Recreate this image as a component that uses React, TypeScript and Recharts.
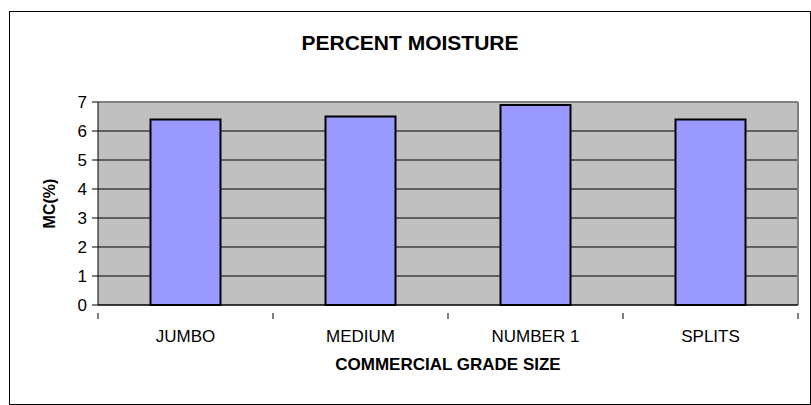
import { Bar, BarChart, CartesianGrid, XAxis, YAxis } from "recharts";

const categories = ["JUMBO", "MEDIUM", "NUMBER 1", "SPLITS"];
const moisture = [6.4, 6.5, 6.9, 6.4];
const yTicks = [0, 1, 2, 3, 4, 5, 6, 7];

const data = categories.map((grade, i) => ({ grade, mc: moisture[i] }));

const FONT = "'Liberation Sans', Arial, sans-serif";

// category label in the middle, tick marks on the band edges (Excel style)
function GradeTick(props: any) {
  const { x, y, payload, index, width, visibleTicksCount } = props;
  const band = width / visibleTicksCount;
  const left = x - band / 2;
  return (
    <g>
      <line x1={left} x2={left} y1={y} y2={y + 6} stroke="#000" />
      {index === visibleTicksCount - 1 && (
        <line x1={left + band} x2={left + band} y1={y} y2={y + 6} stroke="#000" />
      )}
      <text x={x} y={y + 29} textAnchor="middle" fontSize={17} fill="#000" fontFamily={FONT}>
        {payload.value}
      </text>
    </g>
  );
}

export default function App() {
  return (
    <div style={{ position: "absolute", left: 0, top: 0, width: 811, height: 405, background: "#fff" }}>
      <div
        style={{
          position: "absolute",
          left: 9,
          top: 11,
          width: 800,
          height: 392,
          border: "1px solid #000",
        }}
      />
      <div
        style={{
          position: "absolute",
          left: 9,
          top: 31,
          width: 802,
          textAlign: "center",
          fontFamily: FONT,
          fontWeight: "bold",
          fontSize: 21,
          color: "#000",
        }}
      >
        PERCENT MOISTURE
      </div>
      <div style={{ position: "absolute", left: 0, top: 0 }}>
        <BarChart
          width={811}
          height={405}
          data={data}
          margin={{ top: 102, right: 13, bottom: 30, left: 0 }}
          barCategoryGap="30%"
        >
          <CartesianGrid fill="#C0C0C0" stroke="#000" vertical={false} />
          <CartesianGrid
            stroke="#808080"
            strokeWidth={2}
            fill="none"
            horizontalCoordinatesGenerator={({ offset }: any) => [offset.top]}
            verticalCoordinatesGenerator={({ offset }: any) => [offset.left + offset.width]}
          />
          <XAxis
            dataKey="grade"
            height={70}
            axisLine={{ stroke: "#000" }}
            tickLine={false}
            tick={<GradeTick />}
            interval={0}
            label={{
              value: "COMMERCIAL GRADE SIZE",
              position: "insideBottom",
              offset: 5,
              fill: "#000",
              fontSize: 17,
              fontWeight: "bold",
              fontFamily: FONT,
            }}
          />
          <YAxis
            width={98}
            domain={[0, 7]}
            ticks={yTicks}
            interval={0}
            axisLine={{ stroke: "#000" }}
            tickLine={{ stroke: "#000" }}
            tickSize={6}
            tickMargin={5}
            tick={{ fontSize: 17, fill: "#000", fontFamily: FONT }}
            label={{
              value: "MC(%)",
              angle: -90,
              position: "center",
              fill: "#000",
              fontSize: 16,
              fontWeight: "bold",
              fontFamily: FONT,
            }}
          />
          <Bar dataKey="mc" fill="#9999FF" stroke="#000" strokeWidth={2} isAnimationActive={false} />
        </BarChart>
      </div>
    </div>
  );
}
